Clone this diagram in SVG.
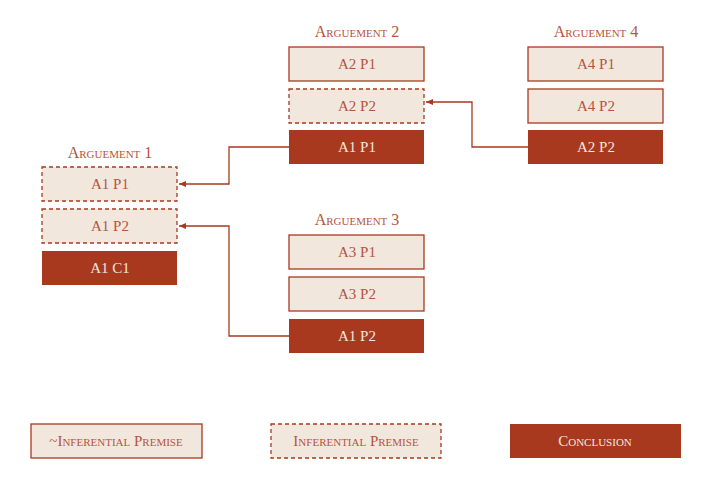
<svg xmlns="http://www.w3.org/2000/svg" width="720" height="480" viewBox="0 0 720 480">
<style>
text{font-family:"Liberation Serif",serif;font-variant:small-caps;font-size:15px;text-anchor:middle;dominant-baseline:central}
.p rect{fill:#f1e7dd;stroke:#a8391f;stroke-width:1.3}
.i rect{fill:#f1e7dd;stroke:#a8391f;stroke-width:1.3;stroke-dasharray:4 3}
.c rect{fill:#a8391f}
.p text,.i text,.t{fill:#b4553d}
.c text{fill:#f1e7dd}
.t{font-size:16px}
.e{fill:none;stroke:#a8391f;stroke-width:1.3;marker-end:url(#a)}
</style>
<defs><marker id="a" markerWidth="8" markerHeight="8" refX="7" refY="4" orient="auto" markerUnits="userSpaceOnUse"><path d="M0,1 L7,4 L0,7z" fill="#a8391f"/></marker></defs>
<text class="t" x="110" y="152">Arguement 1</text>
<text class="t" x="357" y="31">Arguement 2</text>
<text class="t" x="357" y="219">Arguement 3</text>
<text class="t" x="596" y="31">Arguement 4</text>
<g id="a1p1" class="i"><rect x="42" y="167" width="135" height="34"/><text x="110" y="184">A1 P1</text></g>
<g id="a1p2" class="i"><rect x="42" y="209" width="135" height="34"/><text x="110" y="226">A1 P2</text></g>
<g id="a1c1" class="c"><rect x="42" y="251" width="135" height="34"/><text x="110" y="268">A1 C1</text></g>
<g id="a2p1" class="p"><rect x="289" y="47" width="135" height="34"/><text x="357" y="64">A2 P1</text></g>
<g id="a2p2" class="i"><rect x="289" y="89" width="135" height="34"/><text x="357" y="106">A2 P2</text></g>
<g id="a2c" class="c"><rect x="289" y="130" width="135" height="34"/><text x="357" y="147">A1 P1</text></g>
<g id="a3p1" class="p"><rect x="289" y="235" width="135" height="34"/><text x="357" y="252">A3 P1</text></g>
<g id="a3p2" class="p"><rect x="289" y="277" width="135" height="34"/><text x="357" y="294">A3 P2</text></g>
<g id="a3c" class="c"><rect x="289" y="319" width="135" height="34"/><text x="357" y="336">A1 P2</text></g>
<g id="a4p1" class="p"><rect x="528" y="47" width="135" height="34"/><text x="596" y="64">A4 P1</text></g>
<g id="a4p2" class="p"><rect x="528" y="89" width="135" height="34"/><text x="596" y="106">A4 P2</text></g>
<g id="a4c" class="c"><rect x="528" y="130" width="135" height="34"/><text x="596" y="147">A2 P2</text></g>
<g id="connectors">
<path class="e" d="M289,147 H229 V184 H179"/>
<path class="e" d="M289,336 H229 V226 H179"/>
<path class="e" d="M528,147 H472 V102 H426"/>
</g>
<g id="leg1" class="p"><rect x="31" y="424" width="171" height="34"/><text x="116" y="441">~Inferential Premise</text></g>
<g id="leg2" class="i"><rect x="271" y="424" width="170" height="34"/><text x="356" y="441">Inferential Premise</text></g>
<g id="leg3" class="c"><rect x="510" y="424" width="171" height="34"/><text x="595" y="441">Conclusion</text></g>
</svg>
